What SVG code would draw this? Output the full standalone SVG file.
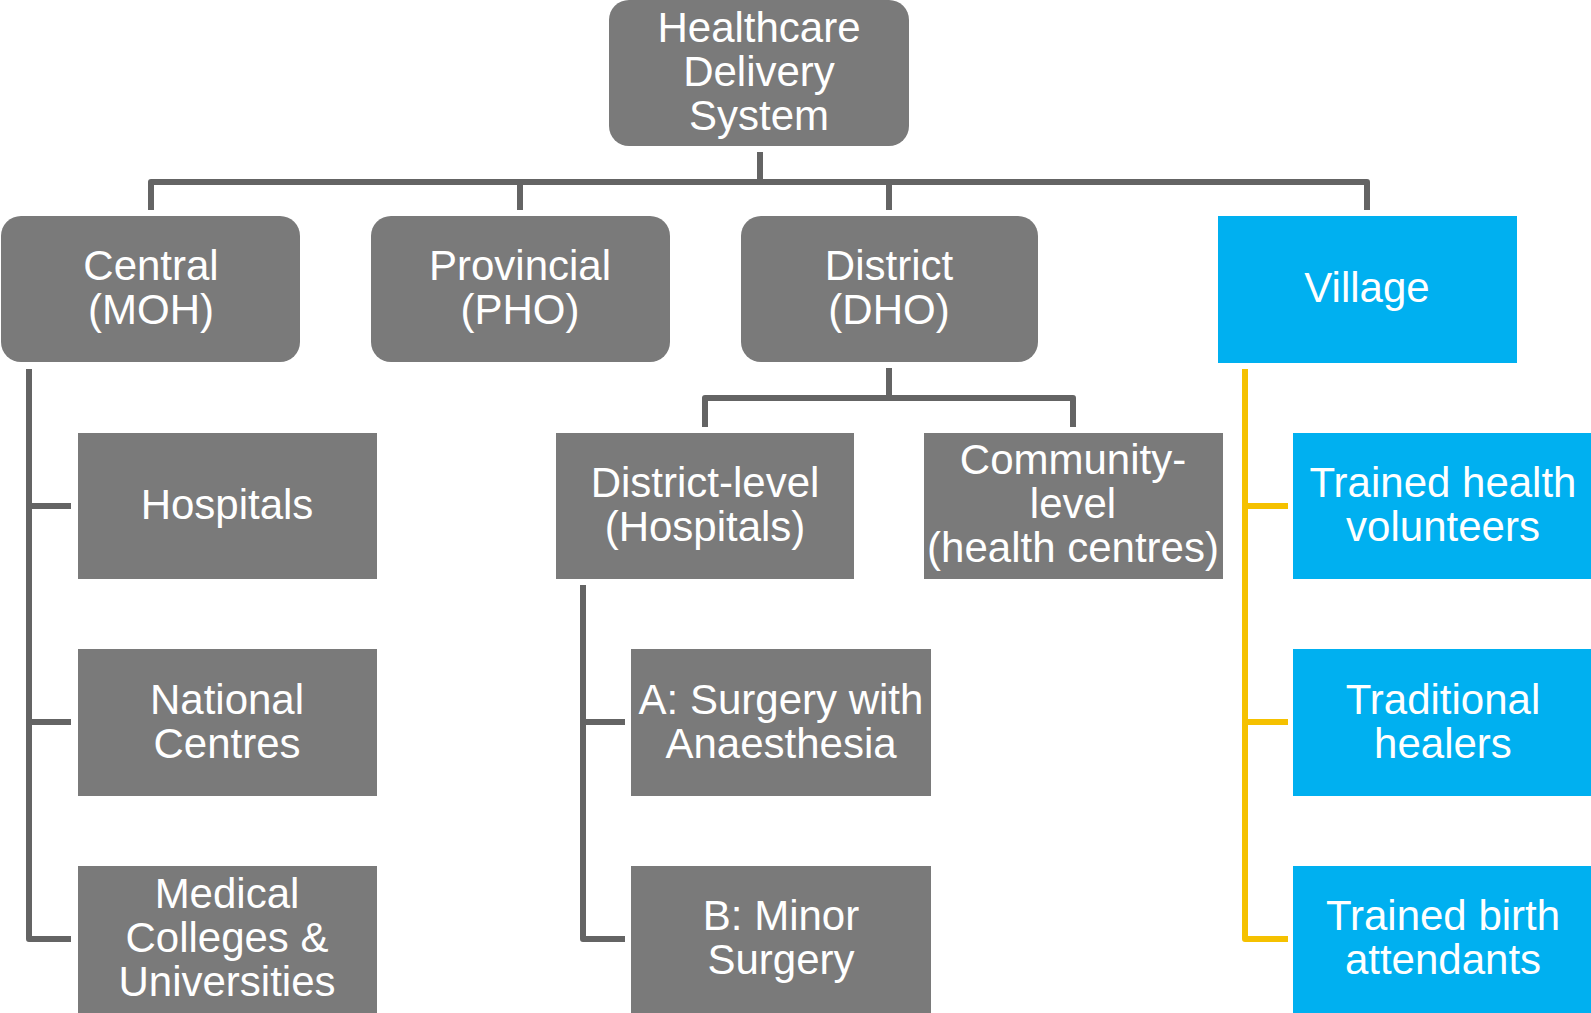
<svg xmlns="http://www.w3.org/2000/svg" width="1591" height="1013" viewBox="0 0 1591 1013">
<style>
.g{fill:#7a7a7a}
.b{fill:#00b0f0}
.t{font-family:"Liberation Sans",Arial,sans-serif;font-size:42px;fill:#ffffff;text-anchor:middle}
.c{fill:none;stroke:#646464;stroke-width:6;stroke-linejoin:round}
.y{fill:none;stroke:#f5c100;stroke-width:6;stroke-linejoin:round}
</style>
<rect width="1591" height="1013" fill="#ffffff"/>
<g id="connectors">
<path class="c" d="M760 152V182"/>
<path class="c" d="M151 210V182H1367V210"/>
<path class="c" d="M520 182V210"/>
<path class="c" d="M889 182V210"/>
<path class="c" d="M29 369V939H71"/>
<path class="c" d="M29 506H71"/>
<path class="c" d="M29 722H71"/>
<path class="c" d="M889 368V398"/>
<path class="c" d="M705 427V398H1073V427"/>
<path class="c" d="M583 585V939H625"/>
<path class="c" d="M583 722H625"/>
<path class="y" d="M1245 369V939H1288"/>
<path class="y" d="M1245 506H1288"/>
<path class="y" d="M1245 722H1288"/>
</g>
<g id="root"><rect class="g" x="609" y="0" width="300" height="146" rx="20"/><text class="t" x="759" y="42">Healthcare</text><text class="t" x="759" y="86">Delivery</text><text class="t" x="759" y="130">System</text></g>
<g id="central"><rect class="g" x="1" y="216" width="299" height="146" rx="20"/><text class="t" x="151" y="280">Central</text><text class="t" x="151" y="324">(MOH)</text></g>
<g id="provincial"><rect class="g" x="371" y="216" width="299" height="146" rx="20"/><text class="t" x="520" y="280">Provincial</text><text class="t" x="520" y="324">(PHO)</text></g>
<g id="district"><rect class="g" x="741" y="216" width="297" height="146" rx="20"/><text class="t" x="889" y="280">District</text><text class="t" x="889" y="324">(DHO)</text></g>
<g id="village"><rect class="b" x="1218" y="216" width="299" height="147"/><text class="t" x="1367" y="302">Village</text></g>
<g id="hospitals"><rect class="g" x="78" y="433" width="299" height="146"/><text class="t" x="227" y="519">Hospitals</text></g>
<g id="national"><rect class="g" x="78" y="649" width="299" height="147"/><text class="t" x="227" y="714">National</text><text class="t" x="227" y="758">Centres</text></g>
<g id="medical"><rect class="g" x="78" y="866" width="299" height="147"/><text class="t" x="227" y="908">Medical</text><text class="t" x="227" y="952">Colleges &amp;</text><text class="t" x="227" y="996">Universities</text></g>
<g id="districtlevel"><rect class="g" x="556" y="433" width="298" height="146"/><text class="t" x="705" y="497">District-level</text><text class="t" x="705" y="541">(Hospitals)</text></g>
<g id="community"><rect class="g" x="924" y="433" width="299" height="146"/><text class="t" x="1073" y="474">Community-</text><text class="t" x="1073" y="518">level</text><text class="t" x="1073" y="562">(health centres)</text></g>
<g id="surgeryA"><rect class="g" x="631" y="649" width="300" height="147"/><text class="t" x="781" y="714">A: Surgery with</text><text class="t" x="781" y="758">Anaesthesia</text></g>
<g id="surgeryB"><rect class="g" x="631" y="866" width="300" height="147"/><text class="t" x="781" y="930">B: Minor</text><text class="t" x="781" y="974">Surgery</text></g>
<g id="volunteers"><rect class="b" x="1293" y="433" width="300" height="146"/><text class="t" x="1443" y="497">Trained health</text><text class="t" x="1443" y="541">volunteers</text></g>
<g id="healers"><rect class="b" x="1293" y="649" width="300" height="147"/><text class="t" x="1443" y="714">Traditional</text><text class="t" x="1443" y="758">healers</text></g>
<g id="birth"><rect class="b" x="1293" y="866" width="300" height="147"/><text class="t" x="1443" y="930">Trained birth</text><text class="t" x="1443" y="974">attendants</text></g>
</svg>
